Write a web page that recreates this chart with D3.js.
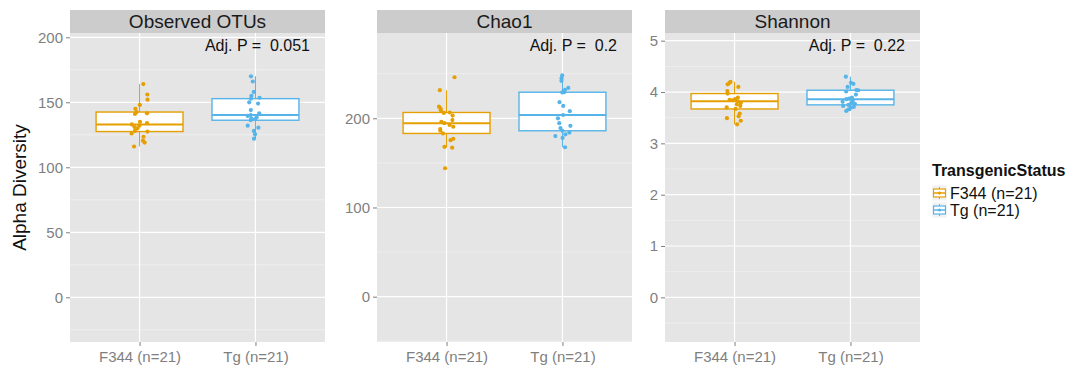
<!DOCTYPE html>
<html><head><meta charset="utf-8">
<script src="https://cdn.jsdelivr.net/npm/d3@7"></script>
<style>
body{margin:0;background:#fff}
svg{display:block}
text{font-family:"Liberation Sans",Arial,Helvetica,sans-serif}
</style>
</head><body>
<svg id="chart" width="1068" height="369"></svg>
<script>
// ---------------- data ----------------
const metrics = ["Observed OTUs", "Chao1", "Shannon"];
const groups = ["F344 (n=21)", "Tg (n=21)"];
const adjP = ["0.051", "0.2", "0.22"];
const yLabel = "Alpha Diversity";
const legendTitle = "TransgenicStatus";

const yTicksObserved = [0, 50, 100, 150, 200];
const yTicksChao1 = [0, 100, 200];
const yTicksShannon = [0, 1, 2, 3, 4, 5];

const observedF344 = [116, 119, 120.5, 123.5, 126, 127.5, 128, 130, 131, 132, 133, 134, 135, 141, 141.5, 142.5, 145, 148, 152, 156, 164];
const observedTg   = [122, 125.5, 128, 130.5, 132, 136.2, 137, 137.5, 138.5, 139.5, 140.2, 141.5, 144, 149, 150, 152.8, 153.5, 155, 158, 166, 170];
const chao1F344    = [144, 167, 168, 175.5, 177, 183, 186, 188, 190.5, 192.5, 194.5, 196, 198, 203, 206, 206.5, 209, 211, 213, 231.5, 246];
const chao1Tg      = [167.5, 178, 180, 182, 184, 186, 189, 191.5, 194.5, 200, 203.7, 208, 213.8, 218, 229, 229.2, 232, 234, 242, 245, 248];
const shannonF344  = [3.37, 3.44, 3.49, 3.53, 3.58, 3.67, 3.70, 3.73, 3.76, 3.79, 3.82, 3.84, 3.85, 3.86, 3.89, 3.97, 4.02, 4.10, 4.15, 4.18, 4.20];
const shannonTg    = [3.63, 3.66, 3.69, 3.71, 3.73, 3.75, 3.77, 3.79, 3.81, 3.83, 3.86, 3.87, 3.89, 3.95, 4.01, 4.035, 4.04, 4.10, 4.16, 4.18, 4.30];

// ---------------- layout / style ----------------
const colors = ["#E69F00", "#56B4E9"];
const panelLefts = [70, 377, 665];
const panelW = 255, plotTop = 33, plotBottom = 342, stripTop = 10;
const domains = [[-34.4, 203.3], [-50.8, 295.6], [-0.87, 5.15]];

const panels = [
  {title: metrics[0], p: adjP[0], ticks: yTicksObserved, series: [observedF344, observedTg]},
  {title: metrics[1], p: adjP[1], ticks: yTicksChao1, series: [chao1F344, chao1Tg]},
  {title: metrics[2], p: adjP[2], ticks: yTicksShannon, series: [shannonF344, shannonTg]}
];

const svg = d3.select("#chart");
svg.append("rect").attr("width", 1068).attr("height", 369).attr("fill", "#fff");

function boxStats(vals) {
  const s = vals.slice().sort(d3.ascending);
  const q1 = d3.quantile(s, 0.25), med = d3.quantile(s, 0.5), q3 = d3.quantile(s, 0.75);
  const iqr = q3 - q1;
  const lo = d3.min(s.filter(v => v >= q1 - 1.5 * iqr));
  const hi = d3.max(s.filter(v => v <= q3 + 1.5 * iqr));
  return {q1, med, q3, lo, hi};
}

panels.forEach((P, i) => {
  const left = panelLefts[i], right = left + panelW;
  const x = d3.scalePoint().domain(groups).range([left, right]).padding(0.6);
  const y = d3.scaleLinear().domain(domains[i]).range([plotBottom, plotTop]);
  const step = x.step();
  const g = svg.append("g");

  // panel background
  g.append("rect").attr("x", left).attr("y", plotTop).attr("width", panelW).attr("height", plotBottom - plotTop).attr("fill", "#E5E5E5");

  // minor grid
  const tk = P.ticks, d = tk[1] - tk[0];
  const minors = d3.range(tk[0] - d / 2, tk[tk.length - 1] + d, d).filter(v => v > domains[i][0] && v < domains[i][1]);
  g.selectAll(".minor").data(minors).join("line")
    .attr("x1", left).attr("x2", right).attr("y1", v => y(v)).attr("y2", v => y(v))
    .attr("stroke", "#F2F2F2").attr("stroke-width", 0.7);
  // major grid
  g.selectAll(".majory").data(tk).join("line")
    .attr("x1", left).attr("x2", right).attr("y1", v => y(v)).attr("y2", v => y(v))
    .attr("stroke", "#fff").attr("stroke-width", 1.2);
  g.selectAll(".majorx").data(groups).join("line")
    .attr("x1", v => x(v)).attr("x2", v => x(v)).attr("y1", plotTop).attr("y2", plotBottom)
    .attr("stroke", "#fff").attr("stroke-width", 1.2);

  // strip
  g.append("rect").attr("x", left).attr("y", stripTop).attr("width", panelW).attr("height", plotTop - stripTop).attr("fill", "#CCCCCC");
  g.append("text").attr("x", left + panelW / 2).attr("y", stripTop + 18).attr("text-anchor", "middle")
    .attr("font-size", 19).attr("fill", "#1a1a1a").text(P.title);

  // boxplots
  groups.forEach((grp, j) => {
    const st = boxStats(P.series[j]);
    const cx = x(grp), bw = step * 0.75, col = colors[j];
    g.append("line").attr("x1", cx).attr("x2", cx).attr("y1", y(st.hi)).attr("y2", y(st.q3)).attr("stroke", col).attr("stroke-width", 1);
    g.append("line").attr("x1", cx).attr("x2", cx).attr("y1", y(st.q1)).attr("y2", y(st.lo)).attr("stroke", col).attr("stroke-width", 1);
    g.append("rect").attr("x", cx - bw / 2).attr("y", y(st.q3)).attr("width", bw).attr("height", y(st.q1) - y(st.q3))
      .attr("fill", "#fff").attr("stroke", col).attr("stroke-width", 1.4);
    g.append("line").attr("x1", cx - bw / 2).attr("x2", cx + bw / 2).attr("y1", y(st.med)).attr("y2", y(st.med))
      .attr("stroke", col).attr("stroke-width", 2);
    // jittered points (seeded jitter)
    const rng = d3.randomLcg(0.137 + i * 0.21 + j * 0.53);
    g.selectAll(null).data(P.series[j]).join("circle")
      .attr("cx", () => cx + (rng() * 2 - 1) * 0.07 * step)
      .attr("cy", v => y(v)).attr("r", 2.1).attr("fill", col);
  });

  // Adj. P annotation
  g.append("text").attr("x", right - 15).attr("y", 50.5).attr("text-anchor", "end")
    .attr("font-size", 16).attr("fill", "#111").style("white-space", "pre")
    .text("Adj. P =  " + P.p);

  // axes
  const ya = g.append("g").attr("transform", `translate(${left},0)`)
    .call(d3.axisLeft(y).tickValues(tk).tickSize(4).tickPadding(3).tickFormat(d3.format("d")));
  const xa = g.append("g").attr("transform", `translate(0,${plotBottom})`)
    .call(d3.axisBottom(x).tickSize(4).tickPadding(5));
  [ya, xa].forEach(a => {
    a.select(".domain").remove();
    a.selectAll(".tick line").attr("stroke", "#7F7F7F");
    a.selectAll(".tick text").attr("fill", "#7F7F7F").attr("font-size", 15)
      .attr("font-family", '"Liberation Sans",Arial,Helvetica,sans-serif');
  });
});

// y-axis title
svg.append("text").attr("transform", `translate(26,${(plotTop + plotBottom) / 2}) rotate(-90)`)
  .attr("text-anchor", "middle").attr("font-size", 19).attr("fill", "#111").text(yLabel);

// legend
const lg = svg.append("g").attr("transform", "translate(932,0)");
lg.append("text").attr("x", 0).attr("y", 176).attr("font-size", 16).attr("font-weight", "bold").attr("fill", "#111").text(legendTitle);
groups.forEach((grp, j) => {
  const cy = 193 + j * 17, col = colors[j];
  const kg = lg.append("g").attr("transform", `translate(0,${cy - 8})`);
  kg.append("rect").attr("width", 15).attr("height", 16).attr("fill", "#F2F2F2").attr("stroke", "#fff").attr("stroke-width", 0.8);
  kg.append("line").attr("x1", 7.5).attr("x2", 7.5).attr("y1", 2).attr("y2", 14).attr("stroke", col).attr("stroke-width", 1);
  kg.append("rect").attr("x", 1.5).attr("y", 4).attr("width", 12).attr("height", 8).attr("fill", "#fff").attr("stroke", col).attr("stroke-width", 1.2);
  kg.append("line").attr("x1", 1.5).attr("x2", 13.5).attr("y1", 8).attr("y2", 8).attr("stroke", col).attr("stroke-width", 1.5);
  kg.append("circle").attr("cx", 7.5).attr("cy", 8).attr("r", 1.6).attr("fill", col);
  lg.append("text").attr("x", 18).attr("y", cy + 5.5).attr("font-size", 16).attr("fill", "#111").text(grp);
});
</script>
</body></html>
